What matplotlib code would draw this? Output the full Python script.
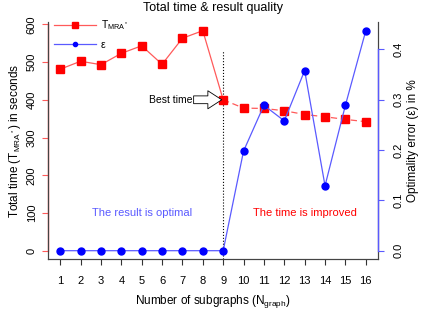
import numpy as np
import matplotlib
matplotlib.use('Agg')
from matplotlib import pyplot as plt
from matplotlib.lines import Line2D
import matplotlib.transforms as mtransforms

plt.rcParams['font.family'] = ['Liberation Sans', 'DejaVu Sans']
plt.rcParams['mathtext.fontset'] = 'custom'
plt.rcParams['mathtext.rm'] = 'Liberation Sans'
plt.rcParams['mathtext.it'] = 'Liberation Sans:italic'
plt.rcParams['font.size'] = 7.5

# data
n_graph = [1, 2, 3, 4, 5, 6, 7, 8, 9, 10, 11, 12, 13, 14, 15, 16]
t_mra = [481, 502, 493, 523, 543, 494, 563, 583, 400, 378, 377, 371, 361, 355, 348, 342]
eps = [0, 0, 0, 0, 0, 0, 0, 0, 0, 0.198, 0.289, 0.258, 0.358, 0.129, 0.289, 0.437]
left_ticks = [0, 100, 200, 300, 400, 500, 600]
right_ticks = [0.0, 0.1, 0.2, 0.3, 0.4]
best = 9

red_line, red_pt = '#ff5a5a', '#ff0000'
blue_line, blue_pt = '#5a5aff', '#0000ff'

fig = plt.figure(figsize=(4.25, 3.09), dpi=100)
ax1 = fig.add_axes([0.1129, 0.1602, 0.7765, 0.7686])
ax2 = ax1.twinx()

i = n_graph.index(best)
ax1.plot(n_graph[:i + 1], t_mra[:i + 1], '-', color=red_line, lw=0.9, zorder=2)
ax1.plot(n_graph[i:], t_mra[i:], '--', color=red_line, lw=0.9, dashes=(5, 3), zorder=2)
ax1.plot(n_graph, t_mra, 's', color=red_pt, ms=5.5, zorder=3)

ax2.plot(n_graph, eps, '-', color=blue_line, lw=0.9)
ax2.plot(n_graph, eps, 'o', color=blue_pt, ms=5)

ax1.set_xlim(0.4, 16.6)
ax1.set_ylim(-23, 606)
ax2.set_ylim(-0.0175, 0.4545)
ax1.set_xticks(n_graph)
ax1.set_yticks(left_ticks)
ax2.set_yticks(right_ticks)
ax2.set_yticklabels(['%.1f' % v for v in right_ticks])
for lab in ax1.get_yticklabels() + ax2.get_yticklabels():
    lab.set_rotation(90)
    lab.set_va('center')
ax1.tick_params(axis='x', length=4, pad=8, colors='#333333', labelcolor='black', labelsize=8)
ax1.tick_params(axis='y', length=4, pad=4, colors=red_line, labelcolor='black', labelsize=8)
ax2.tick_params(axis='y', length=4, pad=7, colors=blue_line, labelcolor='black', labelsize=8)

for ax in (ax1, ax2):
    ax.spines['top'].set_visible(False)
    for s in ('left', 'right', 'bottom'):
        ax.spines[s].set_color('#444444')
        ax.spines[s].set_linewidth(0.8)
    ax.set_facecolor('none')

# coloured axis lines over the box
tr1 = mtransforms.blended_transform_factory(ax1.transAxes, ax1.transData)
ax1.plot([0, 0], [0, 600], color=red_line, lw=1, transform=tr1, clip_on=False, zorder=5)
tr2 = mtransforms.blended_transform_factory(ax2.transAxes, ax2.transData)
ax2.plot([1, 1], [0, 0.4], color=blue_line, lw=1, transform=tr2, clip_on=False, zorder=5)

ax1.plot([best, best], [-23, 532], ':', color='black', lw=0.8, zorder=1)

ax1.annotate('', xy=(8.93, 400), xytext=(7.55, 400),
             arrowprops=dict(arrowstyle='simple,head_length=0.5,head_width=0.65,tail_width=0.28',
                             mutation_scale=20, fc='white', ec='black', lw=0.6,
                             shrinkA=0, shrinkB=0))
ax1.text(7.48, 400, 'Best time', ha='right', va='center', fontsize=7.5)

ax1.text(5.0, 100, 'The result is optimal', color=blue_line, ha='center', va='center', fontsize=8)
ax1.text(13.0, 100, 'The time is improved', color=red_pt, ha='center', va='center', fontsize=8)

ax1.set_title('Total time & result quality', fontsize=9, pad=8)
ax1.set_xlabel(r'Number of subgraphs (N$_{\mathrm{graph}}$)', fontsize=8.5, labelpad=5)
ax1.set_ylabel(r'Total time (T$_{\mathrm{MRA^*}}$) in seconds', fontsize=8.5, labelpad=3)
ax2.set_ylabel('Optimality error (ε) in %', fontsize=8.5, labelpad=3)

handles = [Line2D([], [], color=red_line, lw=0.9, marker='s', ms=4, mfc=red_pt, mec=red_pt),
           Line2D([], [], color=blue_line, lw=0.9, marker='o', ms=3, mfc=blue_pt, mec=blue_pt)]
ax2.legend(handles, [r'T$_{\mathrm{MRA^*}}$', 'ε'], loc='upper left',
           frameon=False, handlelength=4.0, handletextpad=0.5, labelspacing=0.75,
           fontsize=7.5, bbox_to_anchor=(-0.01, 1.055))

fig.savefig('out.png', dpi=100)
